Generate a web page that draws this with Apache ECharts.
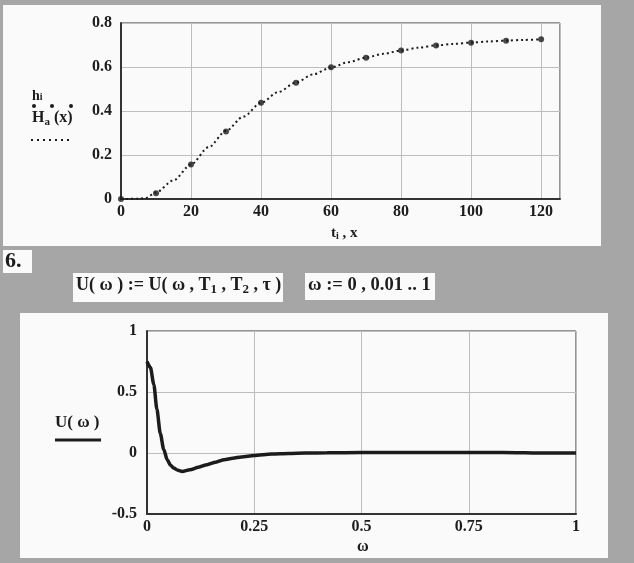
<!DOCTYPE html>
<html><head><meta charset="utf-8">
<script src="https://cdn.jsdelivr.net/npm/echarts@6/dist/echarts.min.js"></script>
<style>html,body{margin:0;padding:0;background:#a6a6a6}#c{width:634px;height:563px}</style>
</head><body><div id="c"></div>
<script>
// Top chart: step response samples h_i at t_i and approximation H_a(x)
const tI = [0, 10, 20, 30, 40, 50, 60, 70, 80, 90, 100, 110, 120];
const hI = [0, 0.026, 0.157, 0.307, 0.437, 0.528, 0.599, 0.642, 0.675, 0.698, 0.71, 0.719, 0.726];
const xA = [0, 5, 7, 10, 15, 20, 25, 30, 35, 40, 45, 50, 55, 60, 65, 70, 75, 80, 85, 90, 95, 100, 105, 110, 115, 120];
const hA = [0, 0.001, 0.004, 0.03, 0.085, 0.157, 0.235, 0.31, 0.375, 0.437, 0.487, 0.53, 0.567, 0.598, 0.622, 0.643, 0.66, 0.675, 0.688, 0.698, 0.705, 0.711, 0.716, 0.72, 0.723, 0.726];
const topXTicks = ['0', '20', '40', '60', '80', '100', '120'];
const topYTicks = ['0', '0.2', '0.4', '0.6', '0.8'];
// Bottom chart: U(omega)
const wVals = [0, 0.008, 0.016, 0.023, 0.031, 0.039, 0.047, 0.055, 0.062, 0.072, 0.082, 0.1, 0.12, 0.14, 0.16, 0.18, 0.2, 0.22, 0.25, 0.29, 0.33, 0.37, 0.42, 0.5, 0.6, 0.7, 0.8, 0.86, 0.9, 1.0];
const uVals = [0.75, 0.70, 0.56, 0.36, 0.16, 0.03, -0.055, -0.10, -0.123, -0.142, -0.151, -0.138, -0.117, -0.096, -0.075, -0.055, -0.043, -0.032, -0.02, -0.008, -0.004, -0.001, 0.002, 0.004, 0.005, 0.005, 0.004, 0.003, 0.001, 0.0];
const botXTicks = ['0', '0.25', '0.5', '0.75', '1'];
const botYTicks = ['-0.5', '0', '0.5', '1'];

const F = "'Liberation Serif', 'DejaVu Serif', serif";
const ink = '#1c1c1c';
const chart = echarts.init(document.getElementById('c'), null, {renderer: 'canvas'});
const lab = (fs) => ({fontFamily: F, fontWeight: 'bold', fontSize: fs, color: ink});
const mctx = document.createElement('canvas').getContext('2d');
// segments: [text, fontSize, dy]
function seq(x, y, segs) {
  const out = [];
  let cx = x;
  segs.forEach(([s, fs, dy]) => {
    const font = 'bold ' + fs + 'px ' + F;
    out.push({type: 'text', left: cx, top: y + (dy || 0), z: 10, style: {text: s, font: font, fill: ink}});
    mctx.font = font;
    cx += mctx.measureText(s).width;
  });
  return out;
}

chart.setOption({
  animation: false,
  backgroundColor: '#a6a6a6',
  graphic: [
    {type: 'rect', shape: {x: 3, y: 5, width: 598, height: 241}, style: {fill: '#fafafa'}, z: -10},
    {type: 'rect', shape: {x: 20, y: 313, width: 588, height: 245}, style: {fill: '#fafafa'}, z: -10},
    {type: 'rect', shape: {x: 3, y: 250, width: 29, height: 23}, style: {fill: '#fafafa'}, z: -10},
    {type: 'rect', shape: {x: 73, y: 273, width: 210, height: 29}, style: {fill: '#fafafa'}, z: -10},
    {type: 'rect', shape: {x: 305, y: 273, width: 130, height: 27}, style: {fill: '#fafafa'}, z: -10},
    ...seq(32, 89, [['h', 14, 0], ['i', 10, 3]]),
    {type: 'circle', shape: {cx: 34, cy: 106, r: 2}, style: {fill: ink}, z: 10},
    {type: 'circle', shape: {cx: 52, cy: 106, r: 2}, style: {fill: ink}, z: 10},
    {type: 'circle', shape: {cx: 71, cy: 106, r: 2}, style: {fill: ink}, z: 10},
    ...seq(32, 110, [['H', 16, 0], ['a', 11, 7], [' (x)', 16, 0]]),
    {type: 'line', shape: {x1: 31, y1: 140, x2: 73, y2: 140}, style: {stroke: ink, lineWidth: 2, lineDash: [2, 4]}, z: 10},
    ...seq(331, 226, [['t', 15, 0], ['i', 10, 5], [' , x', 15, 0]]),
    ...seq(5, 250, [['6.', 22, 0]]),
    ...seq(76, 276, [['U( ω ) := U( ω , T', 18, 0], ['1', 13, 7], [' , T', 18, 0], ['2', 13, 7], [' , τ )', 18, 0]]),
    ...seq(308, 276, [['ω := 0 , 0.01 .. 1', 18.5, 0]]),
    ...seq(55, 414, [['U( ω )', 17, 0]]),
    {type: 'line', shape: {x1: 55, y1: 440, x2: 101, y2: 440}, style: {stroke: ink, lineWidth: 3}, z: 10},
    ...seq(357, 539, [['ω', 16, 0]])
  ],
  grid: [
    {left: 121, top: 23, width: 439, height: 176, show: true, borderColor: '#333', borderWidth: 1},
    {left: 147, top: 331, width: 429, height: 183, show: true, borderColor: '#333', borderWidth: 1}
  ],
  xAxis: [
    {gridIndex: 0, type: 'value', min: 0, max: 125.4, interval: 20,
      axisLine: {show: true, onZero: false, lineStyle: {color: '#333', width: 2}}, axisTick: {show: false},
      axisLabel: Object.assign(lab(16), {margin: 5, showMaxLabel: false,
        formatter: v => { const i = topXTicks.indexOf(String(v)); return i >= 0 ? topXTicks[i] : ''; }}),
      splitLine: {show: true, lineStyle: {color: '#bdbdbd', width: 1}}},
    {gridIndex: 1, type: 'value', min: 0, max: 1, interval: 0.25,
      axisLine: {show: true, onZero: false, lineStyle: {color: '#333', width: 2}}, axisTick: {show: false},
      axisLabel: Object.assign(lab(16), {margin: 5,
        formatter: v => { const i = botXTicks.indexOf(String(v)); return i >= 0 ? botXTicks[i] : ''; }}),
      splitLine: {show: true, lineStyle: {color: '#bdbdbd', width: 1}}}
  ],
  yAxis: [
    {gridIndex: 0, type: 'value', min: 0, max: 0.8, interval: 0.2,
      axisLine: {show: true, onZero: false, lineStyle: {color: '#333', width: 2}}, axisTick: {show: false},
      axisLabel: Object.assign(lab(16), {margin: 9,
        formatter: v => { const i = topYTicks.indexOf(String(+v.toFixed(2))); return i >= 0 ? topYTicks[i] : ''; }}),
      splitLine: {show: true, lineStyle: {color: '#bdbdbd', width: 1}}},
    {gridIndex: 1, type: 'value', min: -0.5, max: 1, interval: 0.5,
      axisLine: {show: true, onZero: false, lineStyle: {color: '#333', width: 2}}, axisTick: {show: false},
      axisLabel: Object.assign(lab(16), {margin: 10,
        formatter: v => { const i = botYTicks.indexOf(String(+v.toFixed(2))); return i >= 0 ? botYTicks[i] : ''; }}),
      splitLine: {show: true, lineStyle: {color: '#bdbdbd', width: 1}}}
  ],
  series: [
    {type: 'line', xAxisIndex: 0, yAxisIndex: 0, data: xA.map((x, i) => [x, hA[i]]), smooth: 0.3, smoothMonotone: 'x',
      showSymbol: false, lineStyle: {color: ink, width: 2, type: [2, 3]}},
    {type: 'scatter', xAxisIndex: 0, yAxisIndex: 0, data: tI.map((t, i) => [t, hI[i]]),
      symbol: 'circle', symbolSize: 6, itemStyle: {color: ink}},
    {type: 'line', xAxisIndex: 1, yAxisIndex: 1, data: wVals.map((w, i) => [w, uVals[i]]), smooth: 0.25, smoothMonotone: 'x',
      showSymbol: false, lineStyle: {color: ink, width: 3.5}}
  ]
});
</script>
</body></html>
